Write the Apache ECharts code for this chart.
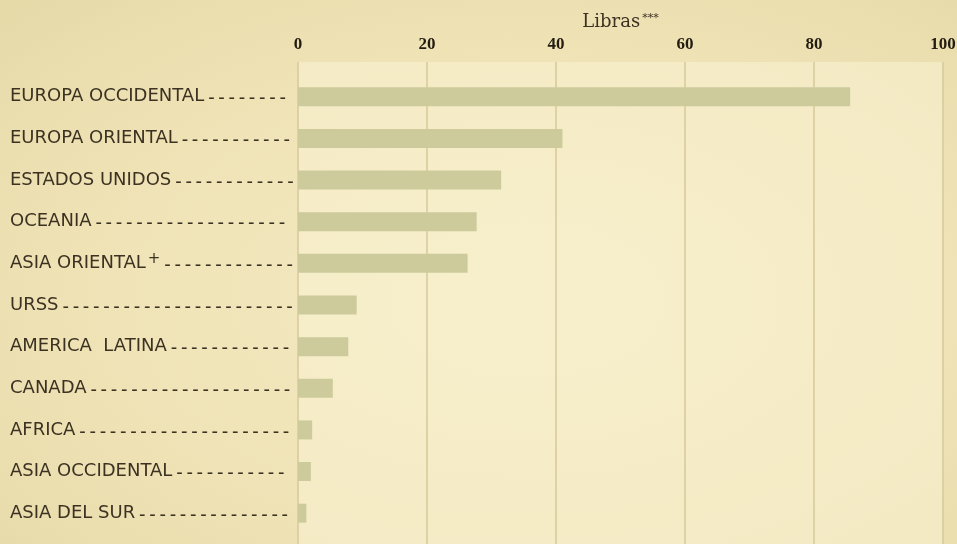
<!DOCTYPE html>
<html>
<head>
<meta charset="utf-8">
<script src="https://cdn.jsdelivr.net/npm/echarts@6/dist/echarts.min.js"></script>
<style>
    html, body {
        margin: 0;
        padding: 0;
        overflow: hidden;
        background: radial-gradient(ellipse at 55% 55%, #f4eac2 0%, #efe3b6 60%, #e6d9a8 100%);
    }
    #chart {
        width: 957px;
        height: 544px;
    }
</style>
</head>
<body>
<div id="chart"></div>
<script>
// data (libras per capita)
const regions = [
    'EUROPA OCCIDENTAL',
    'EUROPA ORIENTAL',
    'ESTADOS UNIDOS',
    'OCEANIA',
    'ASIA ORIENTAL',
    'URSS',
    'AMERICA  LATINA',
    'CANADA',
    'AFRICA',
    'ASIA OCCIDENTAL',
    'ASIA DEL SUR'
];
const libras = [85.6, 41, 31.5, 27.7, 26.3, 9.1, 7.8, 5.4, 2.2, 2.0, 1.3];
const tickValues = [0, 20, 40, 60, 80, 100];

const nameFont = '18px "DejaVu Sans"';
const plusFont = '15px "DejaVu Sans"';
const dashFont = 'bold 12px "DejaVu Sans"';
const ctx = document.createElement('canvas').getContext('2d');

// dashed leaders up to the plot edge
function withLeader(name) {
    ctx.font = nameFont;
    let w = ctx.measureText(name).width + 4;
    let plus = '';
    if (name === 'ASIA ORIENTAL') {
        ctx.font = plusFont;
        w += ctx.measureText('+').width + 2;
        plus = '{p|+}';
    }
    ctx.font = dashFont;
    let d = '';
    while (w + ctx.measureText(d + ' \u2013').width < 288) d += ' \u2013';
    return '{n|' + name + '}' + plus + '{d|' + d + '}';
}

const chart = echarts.init(document.getElementById('chart'));

chart.setOption({
    animation: false,
    grid: [
        {   // frame with the gridlines
            left: 298, right: 14, top: 62, bottom: 0,
            outerBoundsMode: 'none',
            show: true,
            backgroundColor: 'rgba(250,243,212,0.55)',
            borderWidth: 0
        },
        {   // bars
            left: 298, right: 14, top: 76, height: 458,
            outerBoundsMode: 'none'
        }
    ],
    xAxis: [
        {
            gridIndex: 0,
            type: 'value',
            position: 'top',
            min: 0,
            max: 100,
            interval: 20,
            name: '{l|Libras}{s|***}',
            nameLocation: 'middle',
            nameGap: 29,
            nameTextStyle: {
                rich: {
                    l: { fontFamily: 'DejaVu Serif', fontSize: 18, color: '#3b3222' },
                    s: { fontFamily: 'DejaVu Serif', fontSize: 11, color: '#3b3222', padding: [0, 0, 8, 2] }
                }
            },
            axisLine: { show: false },
            axisTick: { show: false },
            axisLabel: {
                margin: 9,
                fontFamily: 'Liberation Serif',
                fontWeight: 'bold',
                fontSize: 17,
                color: '#231c10',
                formatter: v => tickValues.includes(v) ? String(v) : ''
            },
            splitLine: {
                show: true,
                lineStyle: { color: '#d6ca9a', width: 1.5 }
            }
        },
        {
            gridIndex: 1,
            type: 'value',
            min: 0,
            max: 100,
            show: false
        }
    ],
    yAxis: [
        {
            gridIndex: 0,
            type: 'value',
            show: false
        },
        {
            gridIndex: 1,
            type: 'category',
            inverse: true,
            data: regions,
            axisLine: { show: false },
            axisTick: { show: false },
            axisLabel: {
                align: 'left',
                margin: 288,
                formatter: withLeader,
                rich: {
                    n: { fontFamily: 'DejaVu Sans', fontSize: 18, color: '#3b3222' },
                    p: { fontFamily: 'DejaVu Sans', fontSize: 15, color: '#3b3222', padding: [0, 0, 8, 2] },
                    d: { fontFamily: 'DejaVu Sans', fontSize: 12, fontWeight: 'bold', color: '#3b3222', padding: [5, 0, 0, 0] }
                }
            }
        }
    ],
    series: [{
        type: 'bar',
        xAxisIndex: 1,
        yAxisIndex: 1,
        data: libras,
        barWidth: 19,
        itemStyle: { color: '#cdcb9c' }
    }]
});
</script>
</body>
</html>
